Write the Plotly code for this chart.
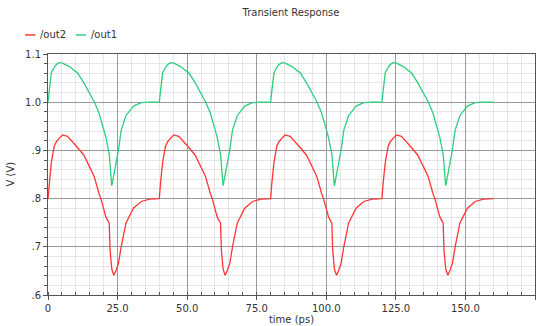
import plotly.graph_objects as go

# One period (40 ps) of each waveform
cycle_t = [0, 0.4, 1.0, 1.2, 2.2, 3.0, 4.0, 5.2, 7.0, 8.2, 9.4, 10.6, 12.9, 13.6, 15.4, 16.6,
           18.3, 19.0, 20.8, 22.0, 22.3, 22.6, 22.9, 23.2, 23.7, 24.5, 25.3, 26.3, 28.0,
           30.7, 33.5, 36.5, 39.9]
out1_cycle = [1.000, 1.022, 1.052, 1.061, 1.072, 1.078, 1.082, 1.081, 1.076, 1.072, 1.066, 1.061, 1.040, 1.033, 1.014, 1.001,
              0.978, 0.963, 0.927, 0.892, 0.870, 0.850, 0.827, 0.835, 0.850, 0.870, 0.900, 0.942, 0.972,
              0.992, 0.999, 1.000, 1.000]
out2_cycle = [0.800, 0.830, 0.866, 0.875, 0.908, 0.918, 0.925, 0.932, 0.929, 0.922, 0.915, 0.906, 0.890, 0.882, 0.860, 0.846,
              0.811, 0.800, 0.762, 0.749, 0.693, 0.670, 0.655, 0.648, 0.641, 0.652, 0.665, 0.700, 0.749,
              0.780, 0.794, 0.799, 0.800]
cycle_starts = [0, 40, 80, 120]
end_t = 160
end_out1 = 1.000
end_out2 = 0.800

x_ticks = [0, 25, 50, 75, 100, 125, 150, 175]
x_labels = ["0", "25.0", "50.0", "75.0", "100.0", "125.0", "150.0", "175.0"]
y_ticks = [0.6, 0.7, 0.8, 0.9, 1.0, 1.1]
y_labels = [".6", ".7", ".8", ".9", "1.0", "1.1"]
series_names = ["/out2", "/out1"]

t_all, o1_all, o2_all = [], [], []
for s in cycle_starts:
    t_all += [s + t for t in cycle_t]
    o1_all += out1_cycle
    o2_all += out2_cycle
t_all.append(end_t)
o1_all.append(end_out1)
o2_all.append(end_out2)

RED = "#ff3535"
GREEN = "#2ccf7e"
FONT = dict(family="DejaVu Sans", size=10, color="#333333")

fig = go.Figure()
fig.add_trace(go.Scatter(x=t_all, y=o2_all, mode="lines", name=series_names[0],
                         line=dict(color=RED, width=1.3), showlegend=False))
fig.add_trace(go.Scatter(x=t_all, y=o1_all, mode="lines", name=series_names[1],
                         line=dict(color=GREEN, width=1.3), showlegend=False))

axis_common = dict(
    showline=True, linecolor="#555555", linewidth=1, mirror=True,
    ticks="outside", ticklen=4, tickcolor="#555555",
    showgrid=True, gridcolor="#9a9a9a", gridwidth=1,
    zeroline=False, automargin=False,
    tickfont=FONT,
)

fig.update_xaxes(
    range=[0, 175], tickvals=x_ticks, ticktext=x_labels,
    minor=dict(dtick=5, tick0=0, showgrid=True, gridcolor="#e6e6e6", gridwidth=1,
               ticks="inside", ticklen=3, tickcolor="#555555"),
    title=dict(text="time (ps)", font=FONT, standoff=0),
    **axis_common,
)
fig.update_yaxes(
    range=[0.6, 1.1], tickvals=y_ticks, ticktext=y_labels,
    minor=dict(dtick=0.02, tick0=0.6, showgrid=True, gridcolor="#e6e6e6", gridwidth=1,
               ticks="outside", ticklen=3, tickcolor="#555555"),
    **axis_common,
)

annotations = [dict(text="V (V)", xref="paper", yref="paper", x=-0.078, y=0.5,
                    xanchor="center", yanchor="middle", textangle=-90,
                    showarrow=False, font=FONT)]
shapes = []
for name, color, x0 in [(series_names[0], RED, -0.047), (series_names[1], GREEN, 0.057)]:
    shapes.append(dict(type="line", xref="paper", yref="paper", x0=x0, x1=x0 + 0.021,
                       y0=1.079, y1=1.079, line=dict(color=color, width=1.5)))
    annotations.append(dict(text=name, xref="paper", yref="paper", x=x0 + 0.027, y=1.079,
                            xanchor="left", yanchor="middle", showarrow=False, font=FONT))

fig.update_layout(
    width=549, height=326,
    margin=dict(l=48, r=14, t=54, b=31),
    paper_bgcolor="white", plot_bgcolor="white",
    title=dict(text="Transient Response", x=0.53, xanchor="center", y=0.963, yanchor="middle",
               font=FONT),
    annotations=annotations,
    shapes=shapes,
)

fig.write_html("out.html", config={"displayModeBar": False},
               post_script="document.body.style.margin='0px';")
